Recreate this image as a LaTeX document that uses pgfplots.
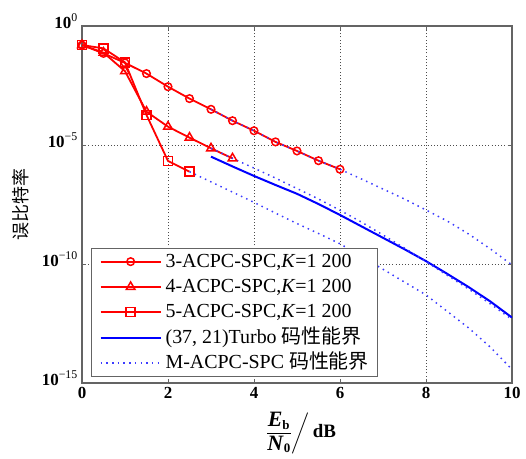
\documentclass[border=0pt]{standalone}
\usepackage{pgfplots}
\pgfplotsset{compat=1.18}
\usepackage{amsmath}
\usepackage{fontspec}
\setmainfont{Liberation Serif}
\newfontfamily\cjk{Noto Sans CJK SC}
\definecolor{mred}{RGB}{255,0,0}
\definecolor{mblue}{RGB}{0,0,255}
\definecolor{mdot}{RGB}{60,60,255}
\definecolor{axgray}{RGB}{100,100,100}
\newcommand{\bigE}{\text{\fontsize{22}{22}\selectfont\textbf{\textit{E}}}}
\newcommand{\bigN}{\text{\fontsize{22}{22}\selectfont\textbf{\textit{N}}}}
\newcommand{\subt}[1]{\text{\fontsize{13}{13}\selectfont\textbf{#1}}}
\begin{document}
\begin{tikzpicture}
\begin{axis}[
  at={(0,0)}, anchor=south west,
  scale only axis, width=430bp, height=357bp,
  xmin=0, xmax=10, ymode=log, ymin=1e-15, ymax=1,
  xtick={0,2,4,6,8,10},
  xticklabels={\textbf{0},\textbf{2},\textbf{4},\textbf{6},\textbf{8},\textbf{10}},
  ytick={1e-15,1e-10,1e-5,1},
  yticklabels={\textbf{10}\textsuperscript{−15},\textbf{10}\textsuperscript{−10},\textbf{10}\textsuperscript{−5},\textbf{10}\textsuperscript{0}},
  yminorticks=false, xminorticks=false,
  tick pos=both, tick align=inside, major tick length=4bp,
  tick style={axgray, line width=0.8bp},
  axis line style={axgray, line width=1.2bp},
  grid=major,
  major grid style={black!70, line width=0.9bp, dash pattern=on 1bp off 2.2bp},
  x tick label style={font=\fontsize{17}{17}\selectfont, yshift=-1bp},
  y tick label style={font=\fontsize{17}{17}\selectfont, anchor=base east, inner sep=1bp, xshift=-3bp, yshift=-2bp},
  xlabel={$\left.\dfrac{\bigE_{\subt{b}}}{\bigN_{\subt{0}}}\right/\text{\textbf{dB}}$},
  xlabel style={at={(axis description cs:0.508,-0.140)}, anchor=center, font=\fontsize{19}{22}\selectfont},
  ylabel={\cjk 误比特率},
  ylabel style={at={(axis description cs:-0.1419,0.5)}, anchor=center, font=\fontsize{18}{18}\selectfont},
  legend style={at={(axis description cs:0.021,0.017)}, anchor=south west,
    draw=axgray, line width=1.2bp, fill=white, inner xsep=8bp, inner ysep=3bp,
    font=\fontsize{20}{24}\selectfont, row sep=4.3bp, column sep=3bp,
    nodes={inner sep=1bp, text height=15bp, text depth=4bp}},
  legend cell align=left,
  legend image code/.code={\draw[mark repeat=2,mark phase=2,#1] plot coordinates {(0bp,0bp) (30bp,0bp) (60bp,0bp)};},
]
% 3-ACPC-SPC
\addplot[mred, line width=1.8bp, mark=o, mark size=3.8bp, mark options={solid, line width=1.5bp}] coordinates {
 (0,0.1585) (0.5,0.0708) (1.0,0.0282) (1.5,0.01) (2.0,2.82e-3) (2.5,8.91e-4)
 (3.0,3.16e-4) (3.5,1.05e-4) (4.0,3.98e-5) (4.5,1.35e-5) (5.0,5.62e-6)
 (5.5,2.19e-6) (6.0,9.55e-7)};
\addlegendentry{3-ACPC-SPC,\textit{K}=1 200}
% 4-ACPC-SPC
\addplot[mred, line width=1.8bp, mark=triangle, mark size=5bp, mark options={solid, line width=1.5bp}] coordinates {
 (0,0.1585) (0.5,0.0759) (1.0,0.0126) (1.5,2.51e-4) (2.0,5.89e-5)
 (2.5,2.04e-5) (3.0,7.24e-6) (3.5,2.75e-6)};
\addlegendentry{4-ACPC-SPC,\textit{K}=1 200}
% 5-ACPC-SPC
\addplot[mred, line width=1.8bp, mark=square, mark size=4.5bp, mark options={solid, line width=1.5bp}] coordinates {
 (0,0.1585) (0.5,0.1148) (1.0,0.0295) (1.5,1.82e-4) (2.0,2.14e-6) (2.5,7.59e-7)};
\addlegendentry{5-ACPC-SPC,\textit{K}=1 200}
% Turbo bound
\addplot[mblue, line width=2bp] coordinates {
 (3.0,3.24e-6) (3.5,1.26e-6) (4.0,5.01e-7) (4.5,2.09e-7) (5.0,8.91e-8)
 (5.5,3.31e-8) (6.0,1.15e-8) (6.5,3.80e-9) (7.0,1.26e-9) (7.5,4.17e-10)
 (8.0,1.32e-10) (8.5,3.80e-11) (9.0,1.05e-11) (9.5,2.63e-12) (10,5.62e-13)};
\addlegendentry{(37, 21)Turbo {\cjk 码性能界}}
% M-ACPC-SPC bounds
\addplot[mdot, line width=1.5bp, dash pattern=on 1.5bp off 4.2bp] coordinates {
 (3.0,3.16e-4) (3.5,1.05e-4) (4.0,3.98e-5) (4.5,1.35e-5) (5.0,5.62e-6)
 (5.5,2.19e-6) (6.0,9.55e-7) (6.5,3.72e-7) (7.0,1.41e-7) (7.5,5.37e-8)
 (8.0,1.86e-8) (8.5,6.31e-9) (9.0,1.78e-9) (9.5,4.27e-10) (10,9.12e-11)};
\addlegendentry{M-ACPC-SPC {\cjk 码性能界}}
\addplot[mdot, line width=1.5bp, dash pattern=on 1.5bp off 4.2bp, forget plot] coordinates {
 (3.0,7.24e-6) (3.5,2.75e-6) (4.0,1.07e-6) (4.5,4.07e-7) (5.0,1.48e-7)
 (5.5,5.37e-8) (6.0,1.82e-8) (6.5,5.75e-9) (7.0,1.66e-9) (7.5,4.68e-10)
 (8.0,1.26e-10) (8.5,3.31e-11) (9.0,8.71e-12) (9.5,2.09e-12) (10,4.68e-13)};
\addplot[mdot, line width=1.5bp, dash pattern=on 1.5bp off 4.2bp, forget plot] coordinates {
 (2.5,7.59e-7) (3.0,2.82e-7) (3.5,1.05e-7) (4.0,3.89e-8) (4.5,1.38e-8)
 (5.0,5.01e-9) (5.5,1.91e-9) (6.0,7.08e-10) (6.5,2.09e-10) (7.0,6.03e-11)
 (7.5,1.74e-11) (8.0,5.01e-12) (8.5,1.0e-12) (9.0,2.0e-13) (9.5,3.16e-14) (10,3.72e-15)};
\end{axis}
\pgfresetboundingbox
\path[use as bounding box] (-82bp,-76bp) rectangle (444bp,383bp);
\end{tikzpicture}
\end{document}
